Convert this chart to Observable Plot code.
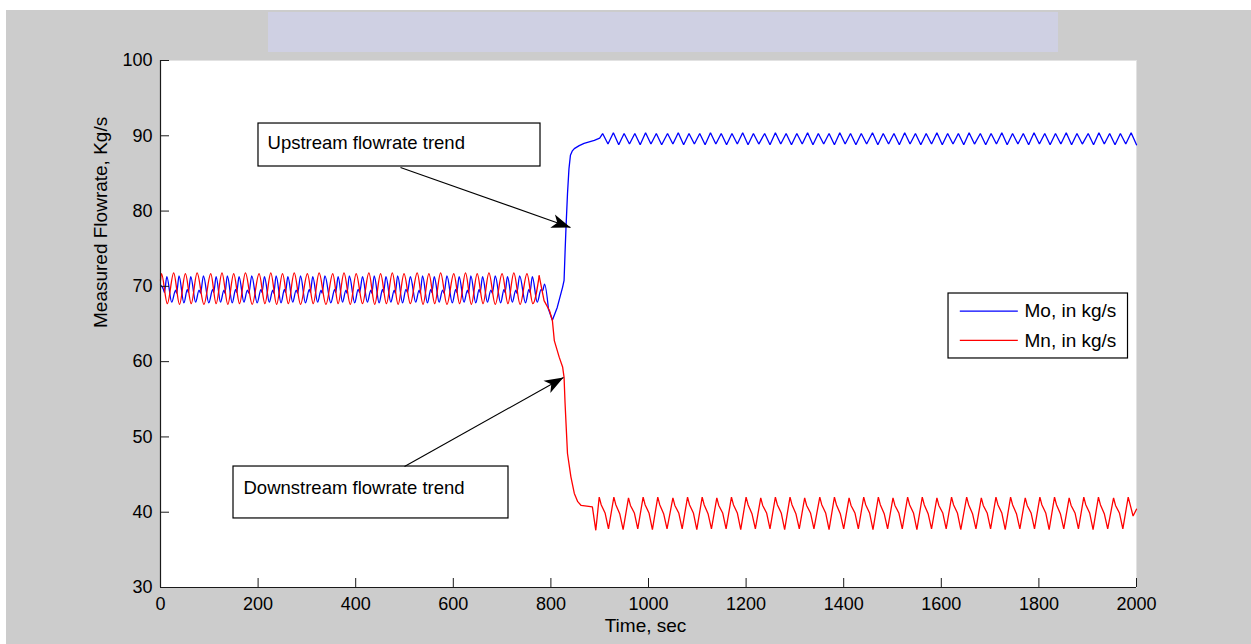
<!DOCTYPE html>
<html><head><meta charset="utf-8">
<script src="https://cdn.jsdelivr.net/npm/d3@7"></script>
<script src="https://cdn.jsdelivr.net/npm/@observablehq/plot@0.6"></script>
<style>
html,body{margin:0;padding:0;background:#fff;width:1251px;height:644px;overflow:hidden;}
#fig{position:absolute;left:6px;top:10px;width:1245px;height:634px;background:#cccccc;}
#band{position:absolute;left:268px;top:12px;width:790px;height:40px;background:#cfd0e3;}
#chart{position:absolute;left:0;top:0;}
</style></head><body>
<div id="fig"></div><div id="band"></div><div id="chart"></div>
<script>
// ---- data ----
const xTicks = [0, 200, 400, 600, 800, 1000, 1200, 1400, 1600, 1800, 2000];
const yTicks = [30, 40, 50, 60, 70, 80, 90, 100];
const seriesNames = ["Mo, in kg/s", "Mn, in kg/s"];
const xTitle = "Time, sec";
const yTitle = "Measured Flowrate, Kg/s";
const annotationTexts = ["Upstream flowrate trend", "Downstream flowrate trend"];

// Mo (upstream) [time s, kg/s]
const moBeforeStep = [
[0,70.2],
[6,69.6],[8,69.2],[13,71.3],[23,67.9],
[31,69.5],[33,69.1],[38,71.4],[48,67.8],
[55,69.6],[57,69.2],[62,71.3],[72,67.9],
[79,69.5],[82,69.1],[88,71.4],[99,67.8],
[107,69.6],[109,69.2],[114,71.3],[123,67.9],
[130,69.5],[132,69.1],[137,71.4],[147,67.8],
[154,69.6],[156,69.2],[161,71.3],[171,67.9],
[178,69.5],[181,69.1],[187,71.4],[198,67.8],
[206,69.6],[208,69.2],[213,71.3],[223,67.9],
[230,69.5],[232,69.1],[237,71.4],[247,67.8],
[254,69.6],[256,69.2],[261,71.3],[271,67.9],
[278,69.5],[281,69.1],[287,71.4],[297,67.8],
[305,69.6],[307,69.2],[312,71.3],[322,67.9],
[329,69.5],[331,69.1],[337,71.4],[349,67.8],
[357,69.6],[359,69.2],[364,71.3],[373,67.9],
[380,69.5],[382,69.1],[387,71.4],[398,67.8],
[405,69.6],[408,69.2],[414,71.3],[424,67.9],
[431,69.5],[433,69.1],[438,71.4],[448,67.8],
[455,69.6],[457,69.2],[462,71.3],[472,67.9],
[479,69.5],[481,69.1],[486,71.4],[496,67.8],
[503,69.6],[506,69.2],[512,71.3],[523,67.9],
[530,69.5],[532,69.1],[537,71.4],[547,67.8],
[554,69.6],[556,69.2],[561,71.3],[571,67.9],
[578,69.5],[581,69.1],[587,71.4],[598,67.8],
[605,69.6],[607,69.2],[612,71.3],[622,67.9],
[629,69.5],[631,69.1],[636,71.4],[646,67.8],
[653,69.6],[655,69.2],[660,71.3],[670,67.9],
[677,69.5],[680,69.1],[686,71.4],[697,67.8],
[704,69.6],[706,69.2],[711,71.3],[721,67.9],
[728,69.5],[730,69.1],[736,71.4],[748,67.8],
[755,69.6],[757,69.2],[762,71.3],[772,67.9],
[780,69.6],[783,69.4],[787,70.3],[795,67.0]
];
const moStep = [
[803,65.5],[813,67.2],[824,69.9],[827,70.8],[829,74.5],[831,77.9],[834,82.3],[837,85.6],
[840,87.4],[844,88.0],[848,88.3],[858,88.7],[868,89.0],[889,89.4],[900,89.7]
];
const moAfterStep = [
[906,90.3],[917,88.9],[928,90.4],[939,88.8],[950,90.3],[961,88.9],[972,90.3],[983,88.8],
[994,90.4],[1005,88.9],[1016,90.3],[1027,88.8],[1039,90.3],[1050,88.9],[1061,90.4],[1072,88.8],
[1083,90.3],[1094,88.9],[1105,90.3],[1116,88.8],[1127,90.4],[1138,88.9],[1149,90.3],[1160,88.8],
[1171,90.3],[1182,88.9],[1193,90.4],[1204,88.8],[1215,90.3],[1226,88.9],[1238,90.3],[1249,88.8],
[1260,90.4],[1271,88.9],[1282,90.3],[1293,88.8],[1304,90.3],[1315,88.9],[1326,90.4],[1337,88.8],
[1348,90.3],[1359,88.9],[1370,90.3],[1381,88.8],[1392,90.4],[1403,88.9],[1414,90.3],[1425,88.8],
[1436,90.3],[1447,88.9],[1459,90.4],[1470,88.8],[1481,90.3],[1492,88.9],[1503,90.3],[1514,88.8],
[1525,90.4],[1536,88.9],[1547,90.3],[1558,88.8],[1569,90.3],[1580,88.9],[1591,90.4],[1602,88.8],
[1613,90.3],[1624,88.9],[1635,90.3],[1646,88.8],[1657,90.4],[1668,88.9],[1680,90.3],[1691,88.8],
[1702,90.3],[1713,88.9],[1724,90.4],[1735,88.8],[1746,90.3],[1757,88.9],[1768,90.3],[1779,88.8],
[1790,90.4],[1801,88.9],[1812,90.3],[1823,88.8],[1834,90.3],[1845,88.9],[1856,90.4],[1867,88.8],
[1878,90.3],[1889,88.9],[1901,90.3],[1912,88.8],[1923,90.4],[1934,88.9],[1945,90.3],[1956,88.8],
[1967,90.3],[1978,88.9],[1989,90.4],[2000,88.8]
];

// Mn (downstream) [time s, kg/s]
const mnBeforeStep = [
[0,70.8],[2,71.7],[14,67.7],[27,71.8],[39,67.6],[51,71.7],[63,67.7],[75,71.8],[89,67.6],
[103,71.7],[114,67.7],[126,71.8],[138,67.6],[150,71.7],[162,67.7],[174,71.8],[188,67.6],
[202,71.7],[214,67.7],[226,71.8],[238,67.6],[250,71.7],[262,67.7],[274,71.8],[287,67.6],
[301,71.7],[313,67.7],[325,71.8],[339,67.6],[353,71.7],[364,67.7],[376,71.8],[389,67.6],
[401,71.7],[414,67.7],[427,71.8],[439,67.6],[451,71.7],[463,67.7],[475,71.8],[487,67.6],
[499,71.7],[512,67.7],[526,71.8],[538,67.6],[550,71.7],[562,67.7],[574,71.8],[587,67.6],
[601,71.7],[613,67.7],[625,71.8],[637,67.6],[649,71.7],[661,67.7],[673,71.8],[686,67.6],
[700,71.7],[712,67.7],[724,71.8],[737,67.6],[751,71.7],[763,67.7],[776,71.4]
];
const mnStep = [
[786,68.1],[797,66.8],[803,65.5],[807,62.8],[817,60.6],[824,59.3],[827,57.9],[829,54.5],
[831,51.8],[834,47.8],[841,44.7],[848,42.5],[855,41.4],[862,40.9],[885,40.7],[892,37.6]
];
const mnAfterStep = [
[899,42.0],[903,41.0],[911,39.9],[918,37.8],
[929,42.0],[933,41.0],[941,39.8],[948,37.7],
[959,41.9],[963,40.9],[971,39.9],[978,37.8],
[989,42.0],[993,41.0],[1001,39.9],[1008,37.7],
[1019,42.0],[1023,41.0],[1031,39.8],[1038,37.8],
[1050,41.9],[1054,40.9],[1062,39.9],[1069,37.8],
[1080,42.0],[1084,41.0],[1092,39.9],[1099,37.7],
[1110,42.0],[1114,41.0],[1122,39.8],[1129,37.8],
[1140,41.9],[1144,40.9],[1152,39.9],[1159,37.8],
[1170,42.0],[1174,41.0],[1182,39.9],[1189,37.7],
[1200,42.0],[1204,41.0],[1212,39.8],[1219,37.8],
[1230,41.9],[1234,40.9],[1242,39.9],[1249,37.8],
[1260,42.0],[1264,41.0],[1272,39.9],[1279,37.7],
[1290,42.0],[1294,41.0],[1302,39.8],[1309,37.8],
[1320,41.9],[1324,40.9],[1332,39.9],[1339,37.8],
[1351,42.0],[1355,41.0],[1363,39.9],[1370,37.7],
[1381,42.0],[1385,41.0],[1393,39.8],[1400,37.8],
[1411,41.9],[1415,40.9],[1423,39.9],[1430,37.8],
[1441,42.0],[1445,41.0],[1453,39.9],[1460,37.7],
[1471,42.0],[1475,41.0],[1483,39.8],[1490,37.8],
[1501,41.9],[1505,40.9],[1513,39.9],[1520,37.8],
[1531,42.0],[1535,41.0],[1543,39.9],[1550,37.7],
[1561,42.0],[1565,41.0],[1573,39.8],[1580,37.8],
[1591,41.9],[1595,40.9],[1603,39.9],[1610,37.8],
[1621,42.0],[1625,41.0],[1633,39.9],[1640,37.7],
[1652,42.0],[1656,41.0],[1664,39.8],[1671,37.8],
[1682,41.9],[1686,40.9],[1694,39.9],[1701,37.8],
[1712,42.0],[1716,41.0],[1724,39.9],[1731,37.7],
[1742,42.0],[1746,41.0],[1754,39.8],[1761,37.8],
[1772,41.9],[1776,40.9],[1784,39.9],[1791,37.8],
[1802,42.0],[1806,41.0],[1814,39.9],[1821,37.7],
[1832,42.0],[1836,41.0],[1844,39.8],[1851,37.8],
[1862,41.9],[1866,40.9],[1874,39.9],[1881,37.8],
[1892,42.0],[1896,41.0],[1904,39.9],[1911,37.7],
[1922,42.0],[1926,41.0],[1934,39.8],[1941,37.8],
[1953,41.9],[1957,40.9],[1965,39.9],[1972,37.8],
[1983,42.0],[1987,41.0],[1993,39.5],[2000,40.4]
];

// ---- layout (not data) ----
const W = 1251, H = 644, mL = 160, mR = 115, mT = 60, mB = 57;
const xDomain = [0, 2000], yDomain = [30, 100];
const colors = ["#0000ff", "#ff0000"];
const font = "'Liberation Sans', Arial, Helvetica, sans-serif";
const kx = (W - mL - mR) / (xDomain[1] - xDomain[0]);
const ky = (H - mT - mB) / (yDomain[1] - yDomain[0]);

const annotations = [
  {text: annotationTexts[0], box: [200.8, 778.7, 91.63, 85.92], at: [219.3, 88.98], from: [491.8, 85.79], to: [840.2, 77.82]},
  {text: annotationTexts[1], box: [149.6, 713.1, 46.07, 39.17], at: [170.1, 43.15], from: [500.0, 46.07], to: [825.8, 57.89]}
];
const legendBox = [1614.8, 1982.6, 69.05, 60.42];
const legendRows = [
  {name: seriesNames[0], color: colors[0], y: 66.72, x1: 1637.9, x2: 1756.8, tx: 1770.5},
  {name: seriesNames[1], color: colors[1], y: 62.82, x1: 1637.9, x2: 1756.8, tx: 1770.5}
];

// smooth oscillation before the step, linear segments from the step onward
const moTail = [moBeforeStep[moBeforeStep.length - 1], ...moStep, ...moAfterStep];
const mnTail = [mnBeforeStep[mnBeforeStep.length - 1], ...mnStep, ...mnAfterStep];

const arrowHead = {draw(ctx) { ctx.moveTo(0, 0); ctx.lineTo(7, 19); ctx.lineTo(0, 14); ctx.lineTo(-7, 19); ctx.closePath(); }};
const headAngle = d => Math.atan2(-(d.to[1] - d.from[1]) * ky, (d.to[0] - d.from[0]) * kx) * 180 / Math.PI + 90;

const lineOpts = (color, curve) => ({x: d => d[0], y: d => d[1], stroke: color, strokeWidth: 1.3, strokeLinejoin: "miter", curve});

const chart = Plot.plot({
  width: W, height: H,
  marginLeft: mL, marginRight: mR, marginTop: mT, marginBottom: mB,
  x: {domain: xDomain},
  y: {domain: yDomain},
  style: {background: "transparent", fontFamily: font, fontSize: "18px", color: "#000", overflow: "visible"},
  marks: [
    Plot.frame({fill: "white", stroke: "#e2e2e2"}),
    Plot.line(moBeforeStep, lineOpts(colors[0], "monotone-x")),
    Plot.line(moTail, lineOpts(colors[0], "linear")),
    Plot.line(mnBeforeStep, lineOpts(colors[1], "monotone-x")),
    Plot.line(mnTail, lineOpts(colors[1], "linear")),
    // axis lines + inward ticks
    Plot.ruleY([yDomain[0]], {stroke: "#1a1a1a", strokeWidth: 1.2}),
    Plot.ruleX([xDomain[0]], {stroke: "#1a1a1a", strokeWidth: 1.2}),
    Plot.ruleX(xTicks, {stroke: "#1a1a1a", insetTop: (H - mT - mB) - 9}),
    Plot.ruleY(yTicks, {stroke: "#1a1a1a", insetRight: (W - mL - mR) - 9}),
    Plot.axisX(xTicks, {tickSize: 0, tickPadding: 10, tickFormat: d => String(d), fontSize: 18, label: null}),
    Plot.axisY(yTicks, {tickSize: 0, tickPadding: 8, tickFormat: d => String(d), fontSize: 18, label: null}),
    Plot.text([xTitle], {frameAnchor: "bottom", dy: 44, dx: -3, fontSize: 19}),
    Plot.text([yTitle], {frameAnchor: "left", rotate: -90, dx: -60, dy: 4, fontSize: 19}),
    // annotations
    Plot.rect(annotations, {x1: d => d.box[0], x2: d => d.box[1], y1: d => d.box[2], y2: d => d.box[3], fill: "white", stroke: "#000", strokeWidth: 1.2}),
    Plot.text(annotations, {x: d => d.at[0], y: d => d.at[1], text: d => d.text, textAnchor: "start", fontSize: 18.5}),
    Plot.link(annotations, {x1: d => d.from[0], y1: d => d.from[1], x2: d => d.to[0], y2: d => d.to[1], stroke: "#000", strokeWidth: 1.1}),
    Plot.dot(annotations, {x: d => d.to[0], y: d => d.to[1], symbol: arrowHead, rotate: headAngle, fill: "#000", stroke: "none", r: 5}),
    // legend
    Plot.rect([legendBox], {x1: d => d[0], x2: d => d[1], y1: d => d[2], y2: d => d[3], fill: "white", stroke: "#000", strokeWidth: 1.2}),
    Plot.link(legendRows, {x1: d => d.x1, x2: d => d.x2, y1: d => d.y, y2: d => d.y, stroke: d => d.color, strokeWidth: 1.3}),
    Plot.text(legendRows, {x: d => d.tx, y: d => d.y, text: d => d.name, textAnchor: "start", fontSize: 19})
  ]
});
document.getElementById("chart").append(chart);
</script></body></html>
